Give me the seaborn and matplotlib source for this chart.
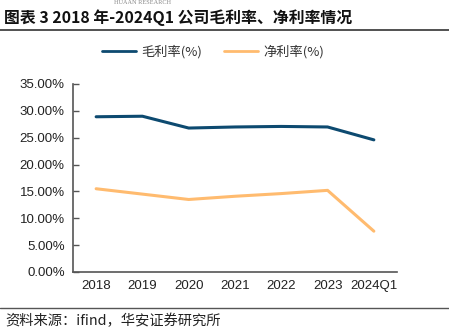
import matplotlib
matplotlib.use("Agg")
import matplotlib.pyplot as plt
import seaborn as sns
import pandas as pd
from matplotlib.ticker import FuncFormatter, FixedLocator

categories = ["2018", "2019", "2020", "2021", "2022", "2023", "2024Q1"]
gross_margin = [28.9, 29.0, 26.8, 27.0, 27.1, 27.0, 24.6]
net_margin = [15.5, 14.5, 13.5, 14.1, 14.6, 15.2, 7.6]
series_names = ["毛利率(%)", "净利率(%)"]
yticks = [0, 5, 10, 15, 20, 25, 30, 35]

sns.set_theme(style="white")
plt.rcParams['font.family'] = ['Liberation Sans', 'Noto Sans CJK SC', 'DejaVu Sans']

df = pd.DataFrame({
    "x": list(range(len(categories))) * 2,
    "value": gross_margin + net_margin,
    "series": [series_names[0]] * len(categories) + [series_names[1]] * len(categories),
})

fig = plt.figure(figsize=(4.49, 3.32), dpi=100)
ax = fig.add_axes([73/449, 1-272/332, (397-73)/449, (272-84)/332])

palette = {series_names[0]: "#0D4A70", series_names[1]: "#FFBB6F"}
sns.lineplot(data=df, x="x", y="value", hue="series", palette=palette,
             linewidth=2.2, ax=ax, legend=True)

ax.set_xlim(-0.5, len(categories) - 0.5)
ax.set_ylim(0, 35)
ax.set_yticks(yticks)
ax.yaxis.set_major_formatter(FuncFormatter(lambda v, p: f"{v:.2f}%"))
ax.xaxis.set_major_locator(FixedLocator([i + 0.0 for i in range(len(categories))]))
ax.set_xticklabels(categories)
ax.xaxis.set_minor_locator(FixedLocator([i - 0.5 for i in range(len(categories) + 1)]))
ax.tick_params(axis="x", which="major", length=0, labelsize=9.5, pad=6, colors="#222222")
ax.tick_params(axis="x", which="minor", length=4, direction="in", color="#555555", width=1)
ax.tick_params(axis="y", which="major", length=4, direction="in", color="#555555", width=1,
               labelsize=9.5, pad=6, labelcolor="#222222", left=True)
for lbl in ax.get_xticklabels() + ax.get_yticklabels():
    lbl.set_fontfamily(['Liberation Sans', 'DejaVu Sans'])
ax.set_xlabel("")
ax.set_ylabel("")
for s in ["top", "right"]:
    ax.spines[s].set_visible(False)
for s in ["left", "bottom"]:
    ax.spines[s].set_color("#555555")
    ax.spines[s].set_linewidth(1.2)
ax.grid(False)

leg = ax.legend(loc="lower center", bbox_to_anchor=(0.432, 1.07), ncol=2, frameon=False,
                handlelength=2.6, columnspacing=1.6, handletextpad=0.4,
                prop={'family': ['Noto Sans CJK SC', 'DejaVu Sans'], 'size': 9.5})
for t in leg.get_texts():
    t.set_color("#333333")
for h in leg.get_lines():
    h.set_linewidth(2.0)

fig.text(0.008, 1 - 18/332, "图表 3 2018 年-2024Q1 公司毛利率、净利率情况", fontsize=11.4,
         fontweight="bold", va="center", ha="left", color="#111111",
         family=['Noto Sans CJK SC', 'DejaVu Sans'])
fig.text(0.318, 0.999, "HUAAN RESEARCH", fontsize=4.5, va="top", ha="center", color="#888888",
         family=['Liberation Serif', 'DejaVu Serif'])
fig.add_artist(plt.Line2D([0, 1], [1 - 30/332, 1 - 30/332], color="#333333", linewidth=1.2,
                          transform=fig.transFigure))
fig.add_artist(plt.Line2D([0, 1], [1 - 308/332, 1 - 308/332], color="#555555", linewidth=1.0,
                          transform=fig.transFigure))
fig.text(0.012, 1 - 321/332, "资料来源：ifind，华安证券研究所", fontsize=10.3, va="center", ha="left",
         color="#222222", family=['Noto Sans CJK SC', 'DejaVu Sans'])

fig.savefig("out.png", dpi=100)
